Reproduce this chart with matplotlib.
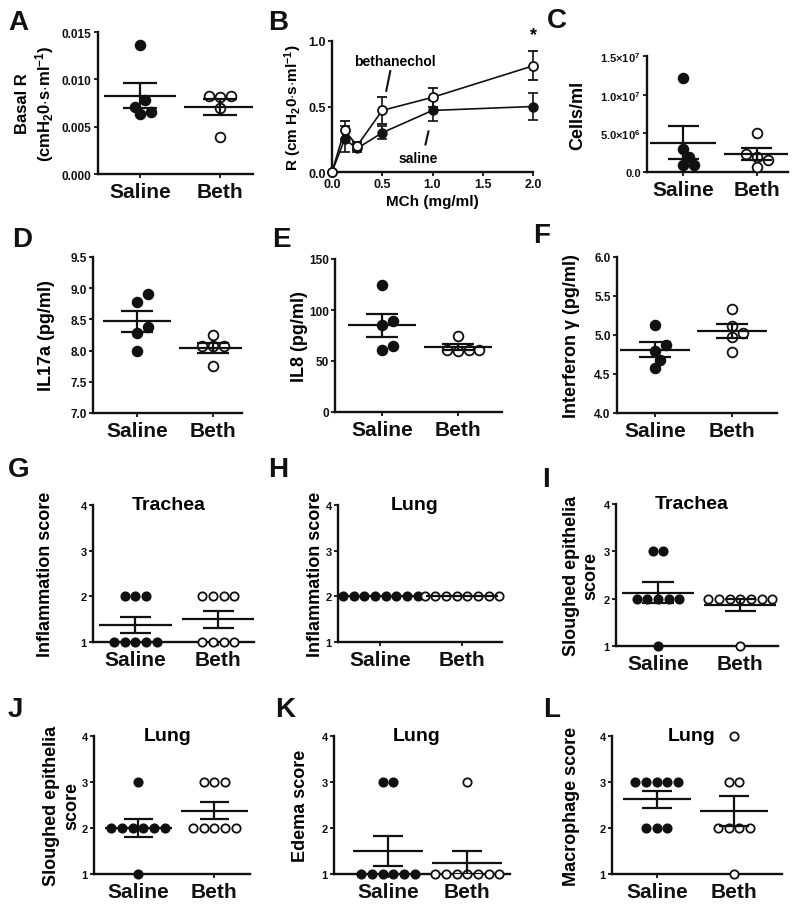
import matplotlib
matplotlib.use('Agg')
import matplotlib.pyplot as plt
import numpy as np
from matplotlib import font_manager

# fonts: bold Arial look, narrow variant for the score panels if present
names = {f.name for f in font_manager.fontManager.ttflist}
FONT = 'Liberation Sans'
NARROW = 'Liberation Sans Narrow' if 'Liberation Sans Narrow' in names else FONT
plt.rcParams['font.family'] = [FONT, 'DejaVu Sans']
plt.rcParams['font.weight'] = 'bold'
plt.rcParams['axes.labelweight'] = 'bold'
plt.rcParams['mathtext.fontset'] = 'custom'
plt.rcParams['mathtext.rm'] = FONT + ':bold'
plt.rcParams['mathtext.bf'] = FONT + ':bold'
plt.rcParams['mathtext.default'] = 'bf'

INK = '#111111'

# ---------------- data ----------------
groups = ['Saline', 'Beth']

# A basal resistance
basal_sal = [0.0136, 0.0078, 0.0071, 0.0066, 0.0063]
basal_beth = [0.0082, 0.0081, 0.0082, 0.0070, 0.0039]

# B methacholine dose response
mch = [0, 0.125, 0.25, 0.5, 1.0, 2.0]
r_sal = [0, 0.25, 0.18, 0.30, 0.47, 0.50]
r_sal_err = [0, 0.10, 0.03, 0.05, 0.08, 0.10]
r_beth = [0, 0.32, 0.20, 0.47, 0.57, 0.81]
r_beth_err = [0, 0.07, 0.03, 0.10, 0.07, 0.11]

# C BAL cells
cells_sal = [1.22e7, 3.0e6, 1.9e6, 0.9e6, 0.9e6]
cells_beth = [5.1e6, 2.3e6, 1.9e6, 1.5e6, 0.7e6]

# D-F cytokines
il17_sal = [8.90, 8.78, 8.38, 8.28, 8.00]
il17_beth = [8.25, 8.08, 8.08, 8.08, 7.75]
il8_sal = [125, 89, 85, 65, 61]
il8_beth = [75, 61, 61, 61, 60]
ifn_sal = [5.13, 4.87, 4.80, 4.68, 4.58]
ifn_beth = [5.33, 5.12, 5.03, 4.98, 4.78]

# G-L histology scores
infl_trach_sal = [2, 2, 2, 1, 1, 1, 1, 1]
infl_trach_beth = [2, 2, 2, 2, 1, 1, 1, 1]
infl_lung_sal = [2, 2, 2, 2, 2, 2, 2, 2]
infl_lung_beth = [2, 2, 2, 2, 2, 2, 2, 2]
slough_trach_sal = [3, 3, 2, 2, 2, 2, 2, 1]
slough_trach_beth = [2, 2, 2, 2, 2, 2, 2, 1]
slough_lung_sal = [3, 2, 2, 2, 2, 2, 2, 1]
slough_lung_beth = [3, 3, 3, 2, 2, 2, 2, 2]
edema_sal = [3, 3, 1, 1, 1, 1, 1, 1]
edema_beth = [3, 1, 1, 1, 1, 1, 1, 1]
macro_sal = [3, 3, 3, 3, 3, 2, 2, 2]
macro_beth = [4, 3, 3, 2, 2, 2, 2, 1]

# ---------------- figure ----------------
W, H = 800, 920
fig = plt.figure(figsize=(W / 100, H / 100), dpi=100)


def px_axes(l, r, t, b):
    return fig.add_axes([l / W, 1 - b / H, (r - l) / W, (b - t) / H])


def style(ax, tick_size=8.5):
    for s in ['top', 'right']:
        ax.spines[s].set_visible(False)
    for s in ['left', 'bottom']:
        ax.spines[s].set_linewidth(1.7)
        ax.spines[s].set_color(INK)
    ax.tick_params(direction='out', length=3, width=1.3, colors=INK,
                   labelsize=tick_size, pad=1.5)


def letter(x, y, s):
    fig.text(x / W, 1 - y / H, s, fontsize=20, fontweight='bold',
             va='baseline', ha='left', color=INK)


def swarm_x(ax, x0, vals, diam):
    # simple beeswarm in pixel space
    tr = ax.transData
    ppu = tr.transform((x0 + 1, 0))[0] - tr.transform((x0, 0))[0]
    order = np.argsort(vals)
    xs = np.zeros(len(vals))
    placed = []
    steps = [0]
    for k in range(1, 10):
        steps += [k, -k]
    for i in order:
        py = tr.transform((x0, vals[i]))[1]
        for k in steps:
            px = k * diam * 0.55
            if all((px - qx) ** 2 + (py - qy) ** 2 >= (diam * 0.95) ** 2
                   for qx, qy in placed):
                break
        placed.append((px, py))
        xs[i] = x0 + px / ppu
    return xs


def rows_x(ax, x0, vals, spacing):
    # equal scores lined up in a centred row
    tr = ax.transData
    ppu = tr.transform((x0 + 1, 0))[0] - tr.transform((x0, 0))[0]
    vals = np.asarray(vals)
    xs = np.zeros(len(vals))
    for v in np.unique(vals):
        idx = np.where(vals == v)[0]
        n = len(idx)
        xs[idx] = x0 + (np.arange(n) - (n - 1) / 2) * spacing / ppu
    return xs


def dot_panel(ax, sal, beth, xlim, ylim, ms, rows=False, mean_w=0.45,
              sem_w=0.21):
    ax.set_xlim(xlim)
    ax.set_ylim(ylim)
    for i, (vals, filled) in enumerate([(sal, True), (beth, False)]):
        x0 = i + 1
        diam = ms * 100 / 72
        if rows:
            xs = rows_x(ax, x0, vals, diam * 1.28)
        else:
            xs = swarm_x(ax, x0, vals, diam)
        ax.plot(xs, vals, 'o', ms=ms, mfc=INK if filled else 'white',
                mec=INK, mew=1.3, ls='none', clip_on=False, zorder=5)
        m = np.mean(vals)
        s = np.std(vals, ddof=1) / np.sqrt(len(vals))
        ax.hlines(m, x0 - mean_w, x0 + mean_w, color=INK, lw=1.6, zorder=6)
        if s > 0:
            ax.hlines([m - s, m + s], x0 - sem_w, x0 + sem_w, color=INK,
                      lw=1.6, zorder=6)
            ax.vlines(x0, m - s, m + s, color=INK, lw=1.6, zorder=6)
    ax.set_xticks([1, 2])


def cat_labels(ax, size, family):
    ax.set_xticklabels(groups, fontsize=size, family=family,
                       fontweight='bold')
    ax.tick_params(axis='x', pad=3)


# ---- A ----
ax = px_axes(98, 253, 33, 175)
style(ax)
dot_panel(ax, basal_sal, basal_beth, (0.475, 2.41), (0, 0.015), 7)
ax.set_yticks([0, 0.005, 0.010, 0.015])
ax.set_yticklabels(['0.000', '0.005', '0.010', '0.015'])
cat_labels(ax, 15, FONT)
ax.set_ylabel('Basal R\n(cmH$_2$0$\\cdot$s$\\cdot$ml$^{-1}$)', fontsize=12)
ax.yaxis.set_label_coords(-0.27, 0.5)
letter(8, 30, 'A')

# ---- B ----
ax = px_axes(332, 533, 42, 173)
style(ax, 9)
ax.errorbar(mch, r_sal, yerr=r_sal_err, fmt='-o', color=INK, mfc=INK,
            mec=INK, ms=6.5, lw=1.2, elinewidth=1.2, capsize=3.5,
            capthick=1.2, clip_on=False, zorder=4)
ax.errorbar(mch, r_beth, yerr=r_beth_err, fmt='-o', color=INK, mfc='white',
            mec=INK, ms=6.5, mew=1.3, lw=1.2, elinewidth=1.2, capsize=3.5,
            capthick=1.2, clip_on=False, zorder=5)
ax.set_xlim(0, 2.0)
ax.set_ylim(0, 1.0)
ax.set_xticks([0, 0.5, 1.0, 1.5, 2.0])
ax.set_xticklabels(['0.0', '0.5', '1.0', '1.5', '2.0'])
ax.set_yticks([0, 0.5, 1.0])
ax.set_yticklabels(['0.0', '0.5', '1.0'])
ax.set_xlabel('MCh (mg/ml)', fontsize=11, labelpad=3)
ax.set_ylabel('R (cm H$_2$0$\\cdot$s$\\cdot$ml$^{-1}$)', fontsize=11)
ax.yaxis.set_label_coords(-0.14, 0.5)
ax.text(0.63, 0.85, 'bethanechol', fontsize=10, ha='center', va='center')
ax.plot([0.58, 0.54], [0.77, 0.62], color=INK, lw=1.5)
ax.text(0.86, 0.11, 'saline', fontsize=10, ha='center', va='center')
ax.plot([0.96, 0.93], [0.31, 0.21], color=INK, lw=1.5)
ax.text(2.0, 1.05, '*', fontsize=13, ha='center', va='center')
letter(268, 30, 'B')

# ---- C ----
ax = px_axes(647, 788, 57, 173)
style(ax, 8)
dot_panel(ax, cells_sal, cells_beth, (0.51, 2.42), (0, 1.5e7), 7)
ax.set_yticks([0, 5e6, 1e7, 1.5e7])
ax.set_yticklabels(['0.0', '5.0×10$^6$', '1.0×10$^7$', '1.5×10$^7$'])
cat_labels(ax, 15, FONT)
ax.set_ylabel('Cells/ml', fontsize=13)
ax.yaxis.set_label_coords(-0.43, 0.5)
letter(547, 28, 'C')

# ---- D ----
ax = px_axes(93, 242, 258, 414)
style(ax)
dot_panel(ax, il17_sal, il17_beth, (0.42, 2.38), (7.0, 9.5), 7)
ax.set_yticks([7.0, 7.5, 8.0, 8.5, 9.0, 9.5])
ax.set_yticklabels(['7.0', '7.5', '8.0', '8.5', '9.0', '9.5'])
cat_labels(ax, 15, FONT)
ax.set_ylabel('IL17a (pg/ml)', fontsize=13)
ax.yaxis.set_label_coords(-0.255, 0.5)
letter(12, 247, 'D')

# ---- E ----
ax = px_axes(335, 502, 260, 413)
style(ax)
dot_panel(ax, il8_sal, il8_beth, (0.38, 2.58), (0, 150), 7)
ax.set_yticks([0, 50, 100, 150])
ax.set_yticklabels(['0', '50', '100', '150'])
cat_labels(ax, 15, FONT)
ax.set_ylabel('IL8 (pg/ml)', fontsize=13)
ax.yaxis.set_label_coords(-0.16, 0.5)
letter(272, 247, 'E')

# ---- F ----
ax = px_axes(617, 777, 258, 414)
style(ax)
dot_panel(ax, ifn_sal, ifn_beth, (0.51, 2.58), (4.0, 6.0), 7)
ax.set_yticks([4.0, 4.5, 5.0, 5.5, 6.0])
ax.set_yticklabels(['4.0', '4.5', '5.0', '5.5', '6.0'])
cat_labels(ax, 15, FONT)
ax.set_ylabel('Interferon γ (pg/ml)', fontsize=13)
ax.yaxis.set_label_coords(-0.23, 0.5)
letter(533, 243, 'F')

# ---- score panels G-L ----
score_panels = [
    # data, box (l, r, t, b), xlim, title, ylabel, label x, letter, letter pos
    (infl_trach_sal, infl_trach_beth, (93, 254, 506, 643), (0.49, 2.43),
     'Trachea', 'Inflammation score', -0.24, 'G', (8, 477)),
    (infl_lung_sal, infl_lung_beth, (338, 502, 506, 643), (0.48, 2.49),
     'Lung', 'Inflammation score', -0.085, 'H', (268, 477)),
    (slough_trach_sal, slough_trach_beth, (616, 778, 505, 647), (0.49, 2.46),
     'Trachea', 'Sloughed epithelia\nscore', -0.10, 'I', (542, 487)),
    (slough_lung_sal, slough_lung_beth, (94, 250, 737, 875), (0.42, 2.47),
     'Lung', 'Sloughed epithelia\nscore', -0.09, 'J', (8, 717)),
    (edema_sal, edema_beth, (334, 510, 737, 875), (0.32, 2.54),
     'Lung', 'Edema score', -0.14, 'K', (275, 717)),
    (macro_sal, macro_beth, (612, 782, 737, 875), (0.42, 2.62),
     'Lung', 'Macrophage score', -0.19, 'L', (543, 717)),
]

tick_size = 18 if NARROW != FONT else 15
for sal, beth, box, xl, title, ylab, lx, let, lpos in score_panels:
    ax = px_axes(*box)
    style(ax, 8)
    dot_panel(ax, sal, beth, xl, (1, 4), 6.0, rows=True, mean_w=0.44,
              sem_w=0.19)
    ax.set_yticks([1, 2, 3, 4])
    ax.set_yticklabels(['1', '2', '3', '4'])
    cat_labels(ax, tick_size, NARROW)
    ax.set_ylabel(ylab, fontsize=13)
    ax.yaxis.set_label_coords(lx, 0.5)
    ax.text(0.47, 1.0, title, transform=ax.transAxes, ha='center',
            va='center', fontsize=14, family=NARROW, fontweight='bold')
    letter(lpos[0], lpos[1], let)

fig.savefig('out.png', dpi=100)
